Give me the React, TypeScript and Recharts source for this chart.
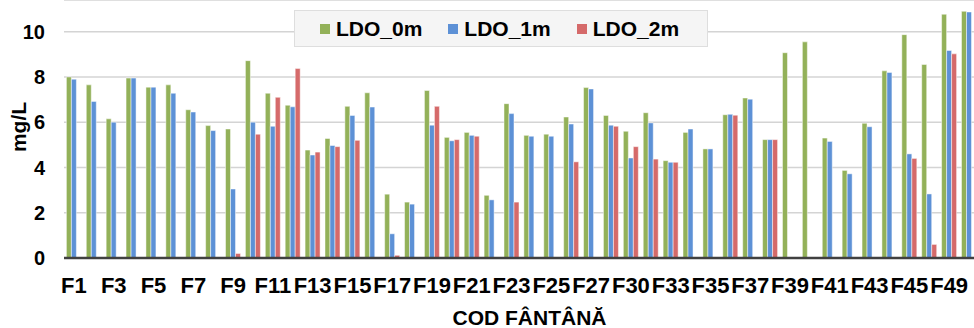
import { BarChart, Bar, XAxis, YAxis, CartesianGrid, Label } from 'recharts'

const wells = [
  'F1', 'F2', 'F3', 'F4', 'F5', 'F6', 'F7', 'F8', 'F9', 'F10',
  'F11', 'F12', 'F13', 'F14', 'F15', 'F16', 'F17', 'F18', 'F19', 'F20',
  'F21', 'F22', 'F23', 'F24', 'F25', 'F26', 'F27', 'F28', 'F30', 'F31',
  'F33', 'F34', 'F35', 'F36', 'F37', 'F38', 'F39', 'F40', 'F41', 'F42',
  'F43', 'F44', 'F45', 'F46', 'F49', 'F50',
]

const ldo0m = [
  8.0, 7.65, 6.15, 7.95, 7.55, 7.65, 6.55, 5.85, 5.7, 8.72,
  7.28, 6.75, 4.77, 5.28, 6.7, 7.3, 2.82, 2.47, 7.4, 5.33,
  5.55, 2.77, 6.82, 5.42, 5.47, 6.23, 7.53, 6.3, 5.6, 6.42,
  4.3, 5.55, 4.82, 6.33, 7.07, 5.23, 9.07, 9.55, 5.3, 3.87,
  5.95, 8.27, 9.87, 8.55, 10.77, 10.9,
]

const ldo1m = [
  7.9, 6.92, 6.0, 7.95, 7.55, 7.28, 6.45, 5.63, 3.05, 6.0,
  5.82, 6.68, 4.55, 4.97, 6.3, 6.67, 1.07, 2.38, 5.87, 5.18,
  5.42, 2.57, 6.38, 5.38, 5.38, 5.92, 7.47, 5.87, 4.42, 5.97,
  4.23, 5.7, 4.82, 6.35, 7.02, 5.23, null, null, 5.15, 3.72,
  5.8, 8.2, 4.6, 2.83, 9.17, 10.87,
]

const ldo2m = [
  null, null, null, null, null, null, null, null, 0.2, 5.47,
  7.1, 8.37, 4.68, 4.92, 5.2, null, 0.12, null, 6.7, 5.23,
  5.38, null, 2.47, null, null, 4.25, null, 5.82, 4.92, 4.37,
  4.23, null, null, 6.31, null, 5.23, null, null, null, null,
  null, null, 4.4, 0.6, 9.02, null,
]

const yTicks = [0, 2, 4, 6, 8, 10]

const series = [
  { key: 'LDO_0m', color: '#93b159' },
  { key: 'LDO_1m', color: '#5d91d6' },
  { key: 'LDO_2m', color: '#d56a6a' },
]

const data = wells.map((w, i) => ({
  well: w,
  LDO_0m: ldo0m[i],
  LDO_1m: ldo1m[i],
  LDO_2m: ldo2m[i],
}))

const FONT = '"Liberation Sans", Arial, sans-serif'

// legend is drawn as plain html on top of the chart, so it takes no room from the plot
const LegendBox = () => (
  <div
    style={{
      position: 'absolute',
      top: 10,
      left: 294,
      width: 414,
      height: 37,
      display: 'flex',
      alignItems: 'center',
      paddingLeft: 25,
      background: '#f5f5f5',
      border: '1px solid #dedede',
      fontFamily: FONT,
      fontWeight: 'bold',
      fontSize: 21,
      color: '#000',
      boxSizing: 'border-box',
    }}
  >
    {series.map((s) => (
      <span key={s.key} style={{ display: 'flex', alignItems: 'center', marginRight: 26 }}>
        <span style={{ width: 10, height: 10, background: s.color, marginRight: 6 }} />
        {s.key}
      </span>
    ))}
  </div>
)

export default function App() {
  return (
    <div style={{ position: 'absolute', left: 0, top: 0, width: 974, height: 328, overflow: 'hidden', background: '#fff' }}>
      <BarChart
        width={984}
        height={328}
        data={data}
        margin={{ top: 0, right: 5, left: 0, bottom: 30 }}
        barCategoryGap="12%"
        barGap={0}
      >
        <CartesianGrid vertical={false} stroke="#d4d4d4" strokeWidth={1.5} />
        <XAxis
          dataKey="well"
          interval={1}
          height={40}
          tickSize={0}
          tickMargin={19}
          axisLine={{ stroke: '#404040', strokeWidth: 2.5 }}
          tick={{ fontSize: 22, fontWeight: 'bold', fill: '#000', fontFamily: FONT }}
        >
          <Label
            value="COD FÂNTÂNĂ"
            position="insideBottom"
            offset={-27}
            dx={8}
            style={{ fontSize: 21, fontWeight: 'bold', fill: '#000', fontFamily: FONT }}
          />
        </XAxis>
        <YAxis
          domain={[0, 11.4]}
          ticks={yTicks}
          width={64}
          tickSize={0}
          tickMargin={19}
          axisLine={false}
          tick={{ fontSize: 20, fontWeight: 'bold', fill: '#000', fontFamily: FONT }}
        >
          <Label
            value="mg/L"
            angle={-90}
            position="insideLeft"
            offset={19}
            dy={-2}
            style={{ fontSize: 21, fontWeight: 'bold', fill: '#000', fontFamily: FONT, textAnchor: 'middle' }}
          />
        </YAxis>
        {series.map((s) => (
          <Bar
            key={s.key}
            dataKey={s.key}
            fill={s.color}
            stroke="#ffffff"
            strokeOpacity={0.6}
            strokeWidth={0.8}
            isAnimationActive={false}
          />
        ))}
      </BarChart>
      <LegendBox />
    </div>
  )
}
